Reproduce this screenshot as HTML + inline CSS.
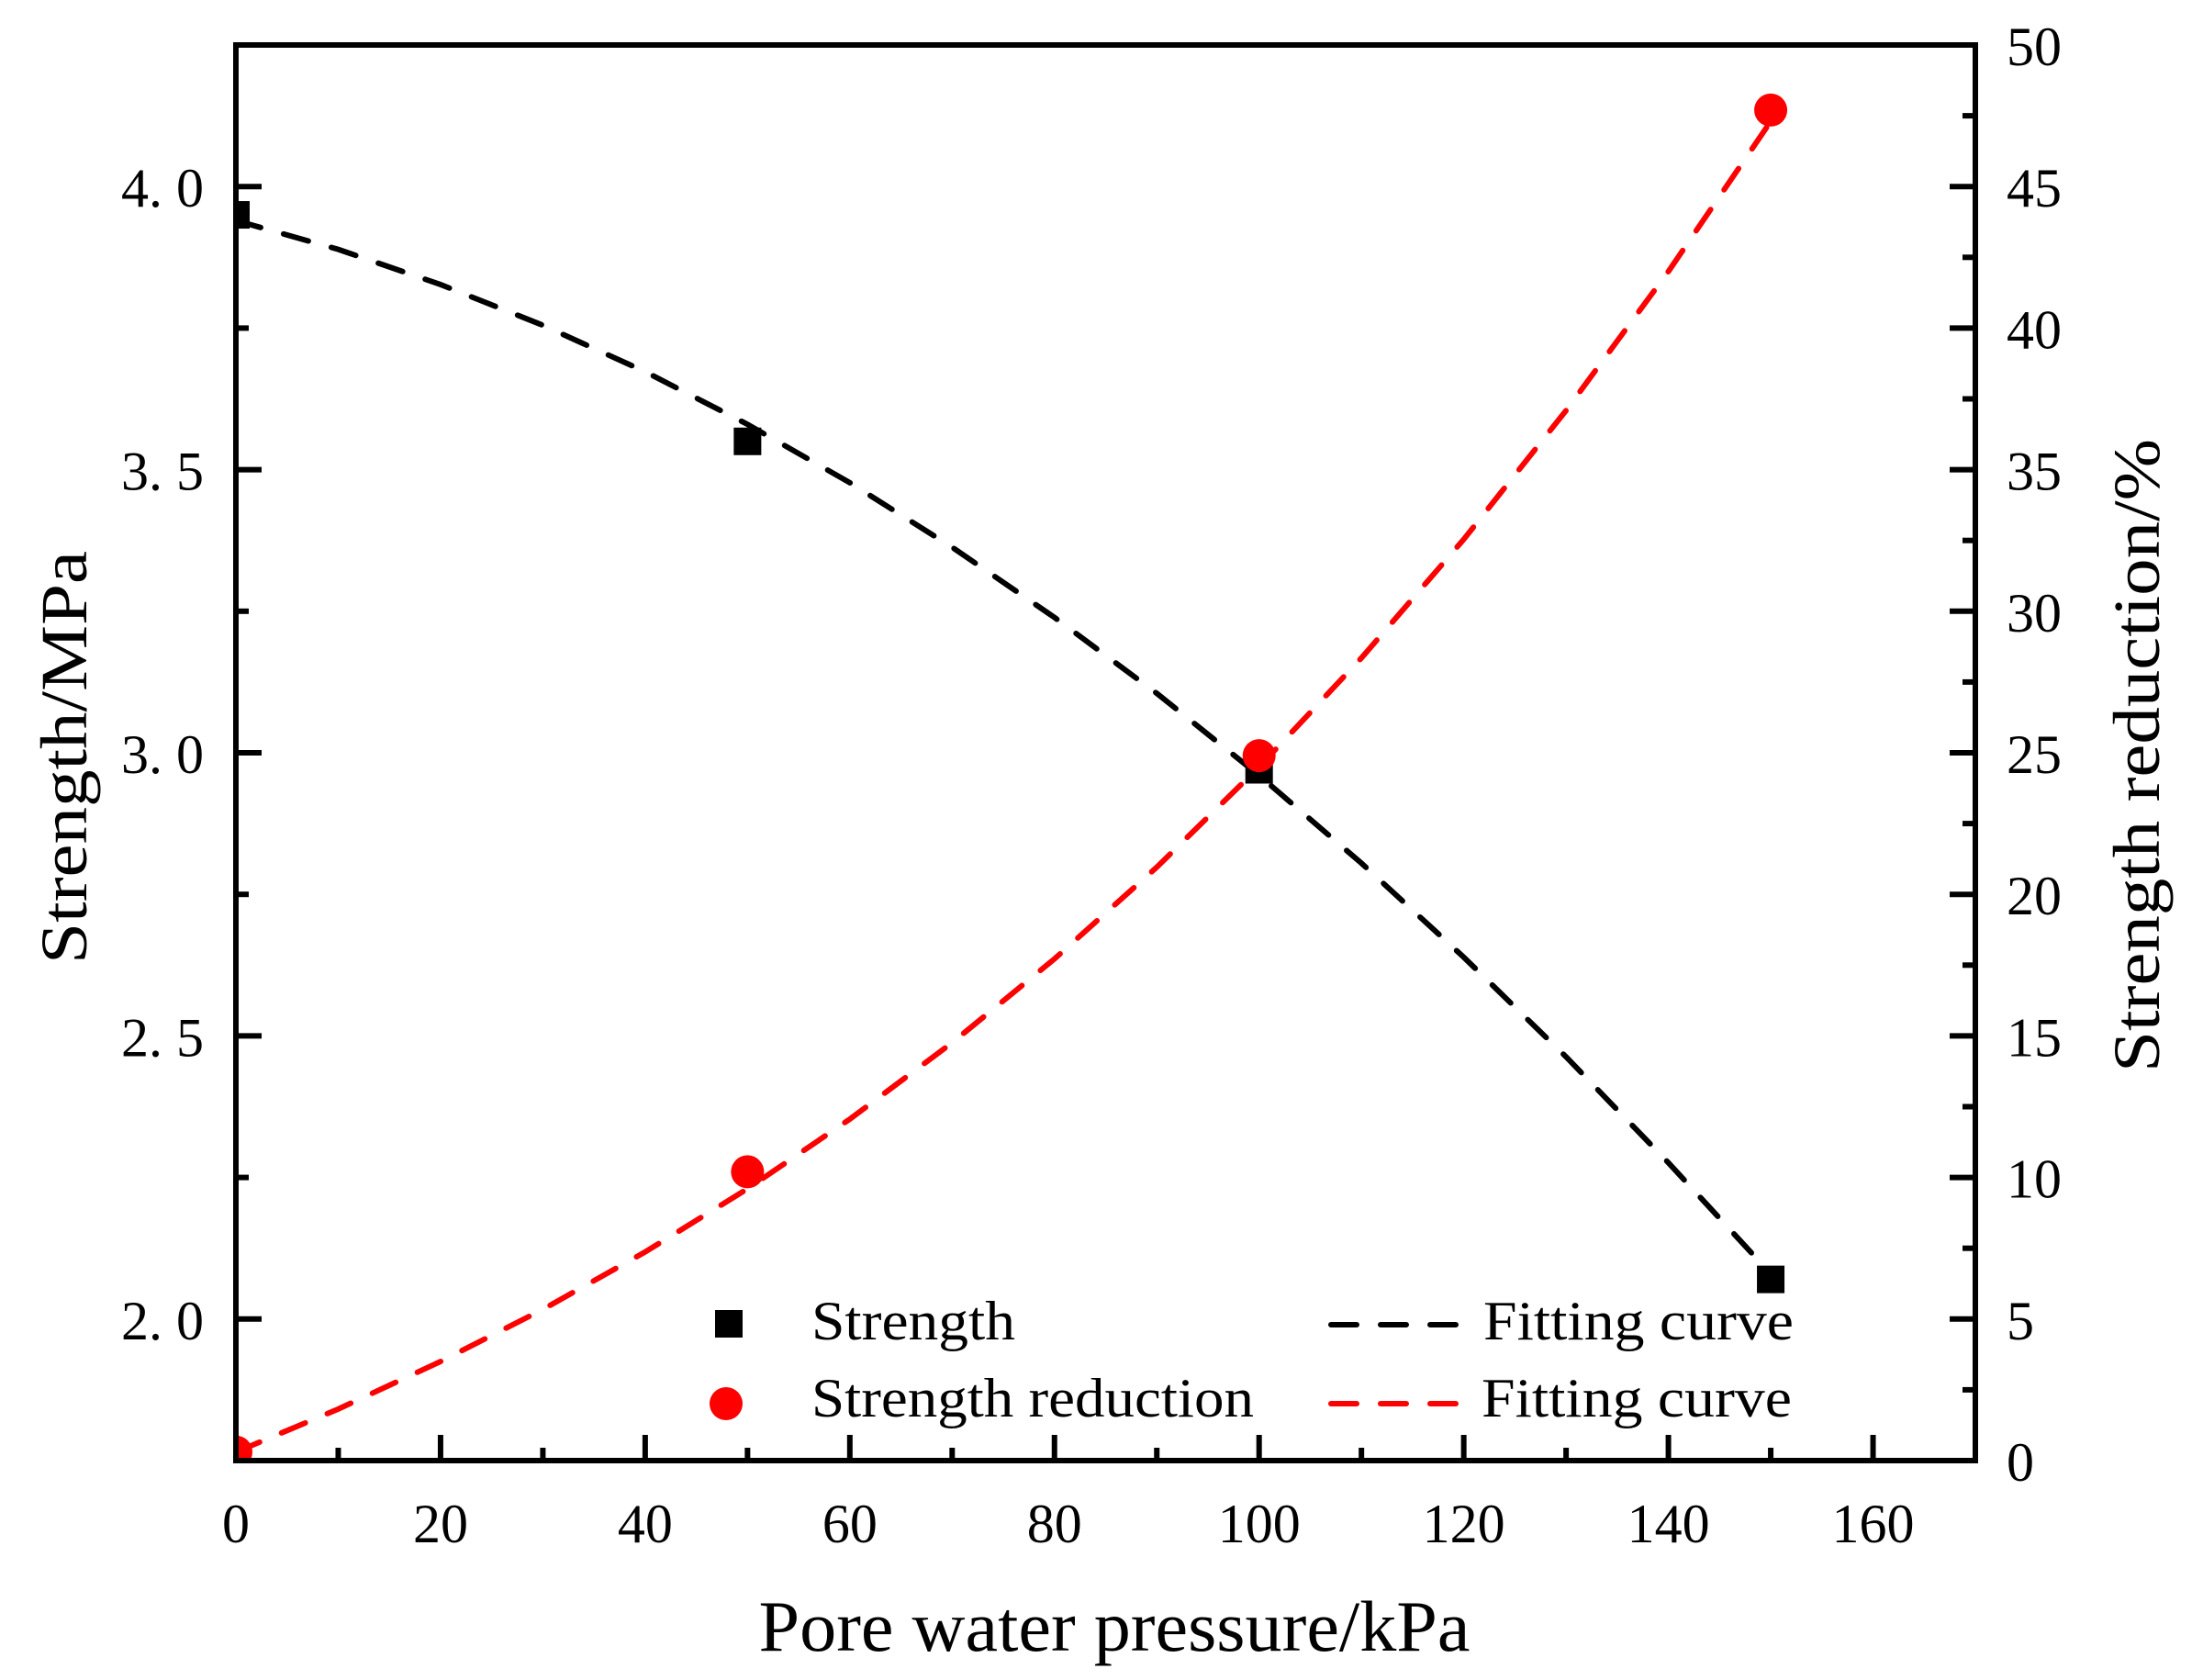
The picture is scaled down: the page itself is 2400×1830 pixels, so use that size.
<!DOCTYPE html>
<html><head><meta charset="utf-8"><style>html,body{margin:0;padding:0;background:#fff}svg{display:block}</style></head>
<body>
<svg id="chart" width="2400" height="1830" viewBox="0 0 2400 1830" xmlns="http://www.w3.org/2000/svg" font-family="'Liberation Serif', serif">
<g id="plot"></g>
<text x="1214" y="1798" font-size="78" text-anchor="middle" textLength="775" lengthAdjust="spacingAndGlyphs">Pore water pressure/kPa</text>
<text transform="translate(94,825) rotate(-90)" font-size="72" text-anchor="middle" textLength="450" lengthAdjust="spacingAndGlyphs">Strength/MPa</text>
<text transform="translate(2352,823) rotate(-90)" font-size="72" text-anchor="middle" textLength="690" lengthAdjust="spacingAndGlyphs">Strength reduction/%</text>
<g>
<rect x="779" y="1427" width="30" height="30" fill="#000"/>
<text x="884" y="1459" font-size="60" textLength="222" lengthAdjust="spacingAndGlyphs">Strength</text>
<circle cx="791" cy="1529" r="18" fill="#ff0000"/>
<text x="884" y="1543" font-size="60" textLength="482" lengthAdjust="spacingAndGlyphs">Strength reduction</text>
<line x1="1450" y1="1443" x2="1592" y2="1443" stroke="#000" stroke-width="6" stroke-dasharray="28 26" stroke-linecap="round"/>
<text x="1616" y="1459" font-size="60" textLength="338" lengthAdjust="spacingAndGlyphs">Fitting curve</text>
<line x1="1450" y1="1529" x2="1592" y2="1529" stroke="#ff0000" stroke-width="6" stroke-dasharray="28 26" stroke-linecap="round"/>
<text x="1614" y="1543" font-size="60" textLength="338" lengthAdjust="spacingAndGlyphs">Fitting curve</text>
</g>
</svg>
<script>
const pressure = [0, 50, 100, 150];
const strength = [3.95, 3.55, 2.97, 2.07];
const reduction = [0.3, 10.2, 24.9, 47.7];
const fitX = [0,10,20,30,40,50,60,70,80,90,100,110,120,130,140,150];
const strengthFit = [3.94,3.889,3.827,3.755,3.673,3.58,3.477,3.363,3.239,3.105,2.96,2.805,2.639,2.463,2.276,2.08];
const reductionFit = [0.3,1.82,3.5,5.34,7.37,9.6,12.06,14.76,17.72,20.96,24.5,28.35,32.54,37.09,42.0,47.3];
const xTicks = [0,20,40,60,80,100,120,140,160];
const yTicks = [2.0,2.5,3.0,3.5,4.0];
const yTickLabels = ["2. 0","2. 5","3. 0","3. 5","4. 0"];
const y2Ticks = [0,5,10,15,20,25,30,35,40,45,50];

const L=257,R=2152,T=49,B=1591;
const X=v=>L+(v-0)/(170-0)*(R-L);
const Y=v=>B-(v-1.75)/(4.25-1.75)*(B-T);
const Y2=v=>B-(v-0)/(50-0)*(B-T);
const NS='http://www.w3.org/2000/svg';
const g=document.getElementById('plot');
function mk(tag,attrs,parent){const e=document.createElementNS(NS,tag);for(const k in attrs)e.setAttribute(k,attrs[k]);(parent||g).appendChild(e);return e;}

let d1=fitX.map((x,i)=>(i?'L':'M')+X(x)+','+Y(strengthFit[i])).join(' ');
let p1=mk('path',{d:d1,fill:'none',stroke:'#000','stroke-width':6,'stroke-dasharray':'28 26','stroke-linecap':'round'});


let d2=fitX.map((x,i)=>(i?'L':'M')+X(x)+','+Y2(reductionFit[i])).join(' ');
let p2=mk('path',{d:d2,fill:'none',stroke:'#ff0000','stroke-width':6,'stroke-dasharray':'28 26','stroke-linecap':'round'});



pressure.forEach((p,i)=>{
  const s=mk('rect',{x:X(p)-15,y:Y(strength[i])-15,width:30,height:30,fill:'#000'});
  
  
});
pressure.forEach((p,i)=>{
  const c=mk('circle',{cx:X(p),cy:Y2(reduction[i]),r:18,fill:'#ff0000'});
  
  
});
mk('rect',{x:0,y:0,width:L,height:1830,fill:'#fff'});
mk('rect',{x:L,y:B,width:2400-L,height:240,fill:'#fff'});

const fr=mk('rect',{x:L,y:T,width:R-L,height:B-T,fill:'none',stroke:'#000','stroke-width':6});



for(let v=0;v<=170;v+=10){const major=v%20===0;mk('line',{x1:X(v),x2:X(v),y1:B,y2:B-(major?28:14),stroke:'#000','stroke-width':6});}
xTicks.forEach(v=>{const t=mk('text',{x:X(v),y:1680,'font-size':60,'text-anchor':'middle'});t.textContent=v;

});
for(let v=1.75;v<=4.251;v+=0.25){const major=Math.abs(v*2-Math.round(v*2))<1e-6;mk('line',{x1:L,x2:L+(major?28:14),y1:Y(v),y2:Y(v),stroke:'#000','stroke-width':6});}
yTicks.forEach((v,i)=>{const t=mk('text',{x:222,y:Y(v)+22,'font-size':60,'text-anchor':'end'});t.textContent=yTickLabels[i];

});
for(let v=0;v<=50.01;v+=2.5){const major=Math.abs(v%5)<1e-6;mk('line',{x1:R,x2:R-(major?28:14),y1:Y2(v),y2:Y2(v),stroke:'#000','stroke-width':6});}
y2Ticks.forEach(v=>{const t=mk('text',{x:2186,y:Y2(v)+22,'font-size':60,'text-anchor':'start'});t.textContent=v;

});
</script>
</body></html>
